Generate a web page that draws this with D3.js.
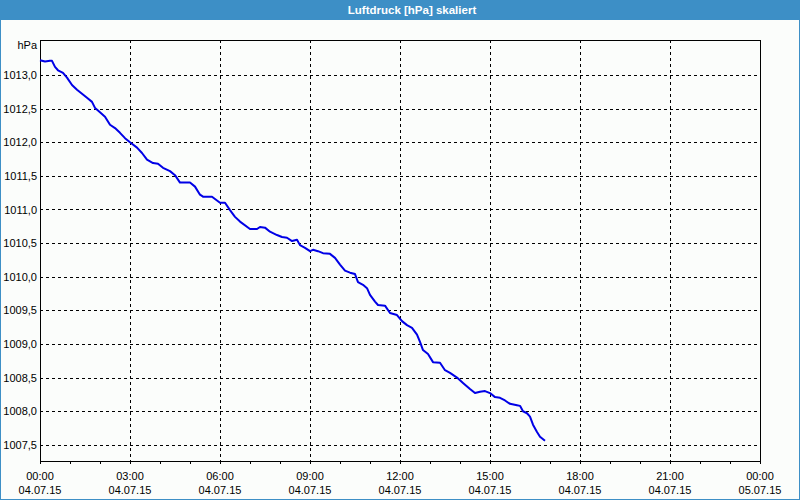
<!DOCTYPE html>
<html lang="de">
<head>
<meta charset="UTF-8">
<title>Luftdruck</title>
<script src="https://d3js.org/d3.v7.min.js"></script>
<style>
  body { margin: 0; background: #fff; }
  text { font-family: "Liberation Sans", Arial, sans-serif; }
</style>
</head>
<body>
<div id="chart"></div>
<script>
// minutes since 04.07.15 00:00
let minutes = [0, 10, 20, 24, 30, 36, 46, 54, 64, 74, 84, 94, 104, 110, 116, 130, 140, 150, 160, 170,
  180, 194, 204, 214, 226, 236, 246, 260, 270, 280, 300, 310, 320, 326, 344, 360, 370, 380, 390, 400,
  420, 434, 440, 450, 460, 474, 484, 494, 504, 514, 520, 530, 540, 546, 556, 566, 580, 590, 600, 610,
  620, 630, 636, 646, 654, 660, 670, 676, 690, 700, 714, 724, 734, 744, 754, 760, 766, 776, 786, 800,
  810, 820, 834, 846, 860, 870, 880, 890, 900, 910, 920, 930, 940, 954, 960, 966, 974, 980, 986, 994,
  1000, 1010];
let pressure = [1013.22, 1013.20, 1013.21, 1013.21, 1013.12, 1013.07, 1013.03, 1012.96, 1012.85, 1012.78,
  1012.72, 1012.66, 1012.60, 1012.51, 1012.47, 1012.38, 1012.26, 1012.21, 1012.14, 1012.06,
  1012.00, 1011.92, 1011.84, 1011.74, 1011.69, 1011.68, 1011.62, 1011.57, 1011.51, 1011.40,
  1011.40, 1011.34, 1011.22, 1011.19, 1011.19, 1011.10, 1011.10, 1010.99, 1010.89, 1010.82,
  1010.71, 1010.71, 1010.74, 1010.73, 1010.67, 1010.62, 1010.59, 1010.58, 1010.53, 1010.55,
  1010.47, 1010.43, 1010.38, 1010.40, 1010.38, 1010.35, 1010.34, 1010.28, 1010.18, 1010.09,
  1010.06, 1010.04, 1009.92, 1009.88, 1009.83, 1009.73, 1009.63, 1009.58, 1009.57, 1009.46,
  1009.43, 1009.34, 1009.28, 1009.24, 1009.14, 1009.03, 1008.91, 1008.85, 1008.73, 1008.72,
  1008.61, 1008.57, 1008.50, 1008.42, 1008.33, 1008.27, 1008.29, 1008.30, 1008.27, 1008.21,
  1008.20, 1008.16, 1008.11, 1008.09, 1008.08, 1008.00, 1007.97, 1007.92, 1007.80, 1007.69,
  1007.62, 1007.56];
let yTicks = [1007.5, 1008.0, 1008.5, 1009.0, 1009.5, 1010.0, 1010.5, 1011.0, 1011.5, 1012.0, 1012.5, 1013.0];
let title = 'Luftdruck [hPa] skaliert';
let unit = 'hPa';

function translate(x, y) {
  return 'translate(' + x + ', ' + y + ')';
}

let svgWidth = 800, svgHeight = 500;
let margin = {top: 40, right: 40, bottom: 39, left: 40};
let width = svgWidth - margin.left - margin.right;
let height = svgHeight - margin.top - margin.bottom;

let start = new Date(2015, 6, 4, 0, 0);
let end = new Date(2015, 6, 5, 0, 0);
let data = minutes.map((m, i) => ({t: d3.timeMinute.offset(start, m), p: pressure[i]}));

let svg = d3.select('#chart').append('svg')
  .attr('width', svgWidth)
  .attr('height', svgHeight);

// window frame
svg.append('rect').attr('x', 0).attr('y', 0).attr('width', svgWidth).attr('height', svgHeight)
  .attr('fill', '#3d8fc6');
svg.append('rect').attr('x', 1).attr('y', 20).attr('width', svgWidth - 2).attr('height', svgHeight - 21)
  .attr('fill', '#fbfdfb');
svg.append('text').attr('x', 412).attr('y', 14)
  .attr('text-anchor', 'middle')
  .style('font-size', '11.5px').style('font-weight', 'bold')
  .attr('fill', '#fff')
  .text(title);

let g = svg.append('g').attr('transform', translate(margin.left, margin.top));

let x = d3.scaleTime().domain([start, end]).range([0, width]);
let y = d3.scaleLinear().domain([1007.26, 1013.52]).range([height, 0]);

// grid
g.append('g').selectAll('line').data(yTicks).enter().append('line')
  .attr('x1', 0).attr('x2', width)
  .attr('y1', d => Math.round(y(d)) + 0.5).attr('y2', d => Math.round(y(d)) + 0.5)
  .attr('stroke', '#000').attr('stroke-dasharray', '3,3')
  .attr('shape-rendering', 'crispEdges');

let majors = d3.timeHour.every(3).range(start, d3.timeMinute.offset(end, 1));
g.append('g').selectAll('line').data(majors.slice(1, -1)).enter().append('line')
  .attr('x1', d => Math.round(x(d)) + 0.5).attr('x2', d => Math.round(x(d)) + 0.5)
  .attr('y1', 0).attr('y2', height)
  .attr('stroke', '#000').attr('stroke-dasharray', '3,3')
  .attr('shape-rendering', 'crispEdges');

// bottom axis: hourly ticks, labels every 3h
let xAxis = d3.axisBottom(x)
  .ticks(d3.timeHour.every(1))
  .tickSize(3)
  .tickFormat('');
let ax = g.append('g').attr('transform', translate(0, height)).call(xAxis);
ax.select('.domain').remove();
ax.selectAll('.tick line').attr('shape-rendering', 'crispEdges');

let fmtTime = d3.timeFormat('%H:%M');
let fmtDate = d3.timeFormat('%d.%m.%y');
let labels = g.append('g').selectAll('text').data(majors).enter().append('text')
  .attr('text-anchor', 'middle')
  .style('font-size', '11px')
  .attr('fill', '#000');
labels.append('tspan').attr('x', d => x(d)).attr('y', height + 19).text(fmtTime);
labels.append('tspan').attr('x', d => x(d)).attr('y', height + 33).text(fmtDate);

// left labels
let yAxis = d3.axisLeft(y).tickValues(yTicks).tickSize(0).tickPadding(3)
  .tickFormat(d => d3.format('.1f')(d).replace('.', ','));
let ay = g.append('g').call(yAxis);
ay.select('.domain').remove();
ay.selectAll('text').style('font-size', '11px').attr('fill', '#000').attr('font-family', null);

g.append('text').attr('x', -3).attr('y', 9)
  .attr('text-anchor', 'end').style('font-size', '11px')
  .text(unit);

// plot frame
g.append('rect').attr('x', 0.5).attr('y', 0.5).attr('width', width).attr('height', height)
  .attr('fill', 'none').attr('stroke', '#000').attr('shape-rendering', 'crispEdges');

// series
let line = d3.line().x(d => x(d.t)).y(d => y(d.p));
g.append('path').datum(data)
  .attr('d', line)
  .attr('fill', 'none')
  .attr('stroke', '#0000e6')
  .attr('stroke-width', 2)
  .attr('stroke-linejoin', 'round');
</script>
</body>
</html>
